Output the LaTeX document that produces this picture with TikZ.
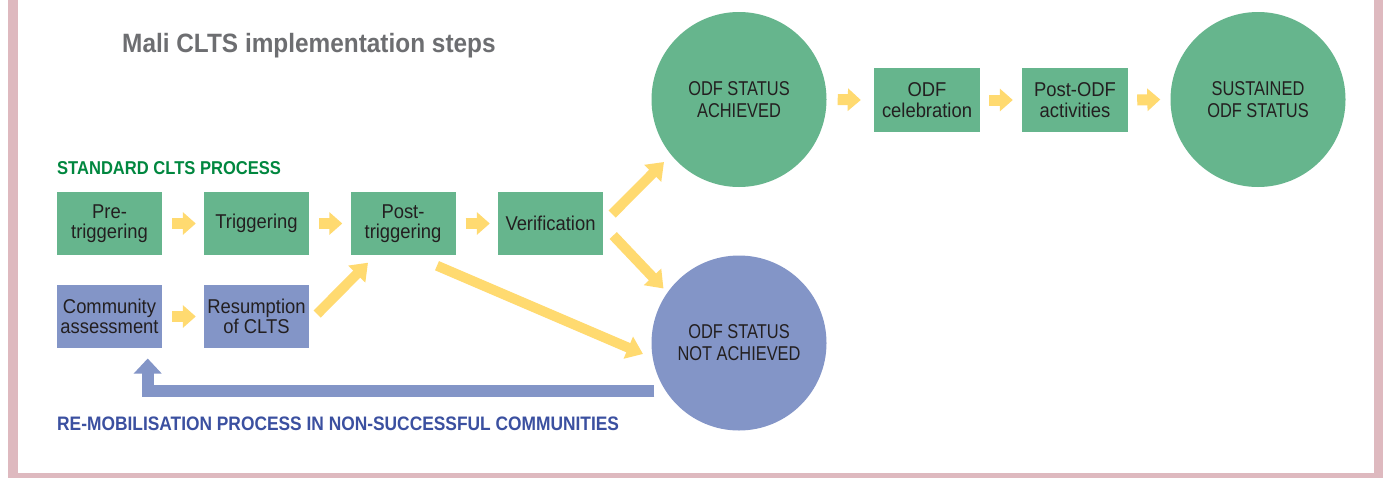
\documentclass[tikz,border=0pt]{standalone}
\usepackage{fontspec}
\setmainfont{Liberation Sans}[FakeStretch=0.92]
\newfontfamily\capsfont{Liberation Sans}[FakeStretch=0.82]
\newfontfamily\titlefont{Liberation Sans}[FakeStretch=0.92]
\newfontfamily\labelfont{Liberation Sans}[FakeStretch=0.89]
\usetikzlibrary{arrows.meta,calc}
\definecolor{boxgreen}{HTML}{66B58D}
\definecolor{boxblue}{HTML}{8395C7}
\definecolor{arrowyellow}{HTML}{FFDA70}
\definecolor{titlegray}{HTML}{6D6E71}
\definecolor{labgreen}{HTML}{00873F}
\definecolor{labblue}{HTML}{3B50A0}
\definecolor{framepink}{HTML}{DEB9BF}
\definecolor{textdark}{HTML}{231F20}
\tikzset{
  stepbox/.style={rectangle, inner sep=0pt, minimum width=105pt, minimum height=63pt,
    align=center, text=textdark, font=\fontsize{20}{20.5}\selectfont},
  greenbox/.style={stepbox, fill=boxgreen},
  bluebox/.style={stepbox, fill=boxblue},
  statecirc/.style={circle, inner sep=0pt, minimum size=175pt, align=center,
    text=textdark, font=\capsfont\fontsize{20}{22}\selectfont},
  smallarr/.style={draw=arrowyellow, line width=11pt, line cap=butt,
    -{Triangle[width=22pt,length=13pt]}},
  fatarr/.style={draw=arrowyellow, line width=10pt, line cap=butt,
    -{Triangle[width=23pt,length=16pt]}},
  feedarr/.style={draw=boxblue, line width=12pt, line cap=butt, line join=miter,
    -{Triangle[width=27pt,length=15pt]}},
}
\begin{document}
\begin{tikzpicture}[x=1pt,y=-1pt]
\useasboundingbox (0,0) rectangle (1383,477);
% frame
\fill[framepink] (8,-5) rectangle (1390,485);
\fill[white] (18,-5) rectangle (1374,473);
% title and labels
\node[anchor=base west, inner sep=0pt, text=titlegray,
  font=\titlefont\bfseries\fontsize{26.5}{30}\selectfont] (title) at (122,52.3)
  {Mali CLTS implementation steps};
\node[anchor=base west, inner sep=0pt, text=labgreen,
  font=\labelfont\bfseries\fontsize{18.6}{20}\selectfont] (stdlab) at (57,174.3)
  {STANDARD CLTS PROCESS};
\node[anchor=base west, inner sep=0pt, text=labblue,
  font=\labelfont\bfseries\fontsize{19.5}{21}\selectfont] (remlab) at (57,430)
  {RE-MOBILISATION PROCESS IN NON-SUCCESSFUL COMMUNITIES};
% standard process boxes
\node[greenbox] (pre) at (109.5,223.5) {Pre-\\triggering};
\node[greenbox] (trig) at (256.5,223.5) {Triggering};
\node[greenbox] (post) at (403,223.5) {Post-\\triggering};
\node[greenbox] (verif) at (550.5,223.5) {Verification};
% remobilisation boxes
\node[bluebox] (comm) at (109.5,316.5) {Community\\assessment};
\node[bluebox] (resum) at (256.5,316.5) {Resumption\\of CLTS};
% status circles
\node[statecirc, fill=boxgreen] (ach) at (739,99.5) {ODF STATUS\\ACHIEVED};
\node[statecirc, fill=boxblue] (notach) at (739,343) {ODF STATUS\\NOT ACHIEVED};
\node[statecirc, fill=boxgreen] (sust) at (1258,99.5) {SUSTAINED\\ODF STATUS};
% post-ODF boxes
\node[greenbox, minimum width=106pt, minimum height=64pt] (celeb) at (927,100) {ODF\\celebration};
\node[greenbox, minimum width=106pt, minimum height=64pt] (postodf) at (1075,100) {Post-ODF\\activities};
% small arrows
\draw[smallarr] ([xshift=10pt]pre.east) -- ([xshift=-8pt]trig.west);
\draw[smallarr] ([xshift=10pt]trig.east) -- ([xshift=-8pt]post.west);
\draw[smallarr] ([xshift=10pt]post.east) -- ([xshift=-8pt]verif.west);
\draw[smallarr] ([xshift=10pt]comm.east) -- ([xshift=-8pt]resum.west);
\draw[smallarr] ([xshift=11pt]ach.east) -- ([xshift=-13pt]celeb.west);
\draw[smallarr] ([xshift=9pt]celeb.east) -- ([xshift=-9pt]postodf.west);
\draw[smallarr] ([xshift=9pt]postodf.east) -- ([xshift=-10pt]sust.west);
% fat diagonal arrows
\draw[fatarr] ($(verif.east)+(9,-9.5)$) -- ($(ach.center)+(-75,62.5)$);
\draw[fatarr] ($(verif.east)+(10,12)$) -- ($(notach.center)+(-75.5,-54.5)$);
\draw[fatarr] ($(post.south)+(34,10.5)$) -- ($(notach.center)+(-96,11)$);
\draw[fatarr] ($(resum.east)+(8,-2.5)$) -- ($(post.south)+(-35,7.5)$);
% feedback arrow
\coordinate (fbstart) at ($(notach.west)+(3,48)$);
\coordinate (fbend) at ($(comm.south east)+(-14.5,10.3)$);
\draw[feedarr] (fbstart) -| (fbend);
\end{tikzpicture}
\end{document}
